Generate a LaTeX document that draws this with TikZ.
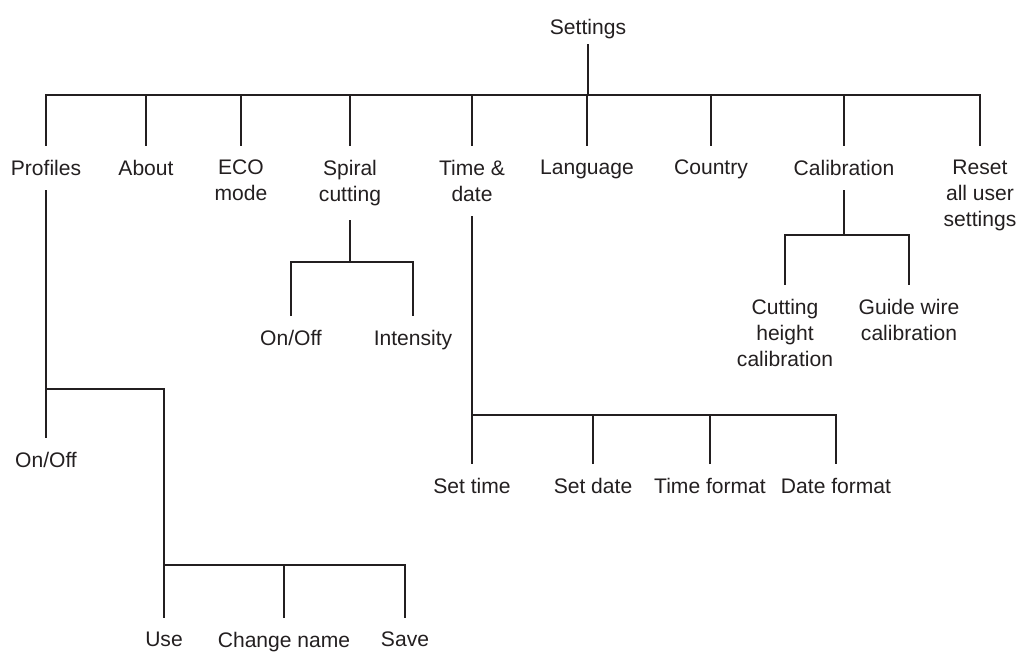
\documentclass[tikz,border=0pt]{standalone}
\usepackage{fontspec}
\setmainfont{Liberation Sans}
\usetikzlibrary{calc,positioning}
\definecolor{inkgray}{HTML}{231F20}

\begin{document}
\begin{tikzpicture}[
  x=0.75pt, y=-0.75pt,
  every node/.style={font=\fontsize{15.8}{19.5}\selectfont, text=inkgray, align=center, inner xsep=0pt, inner ysep=10.5pt},
  item/.style={anchor=north},
  link/.style={draw=inkgray, line width=1.9pt}
]
\useasboundingbox (0,0) rectangle (1017,652);

\node[inner ysep=4pt] (settings) at (588,29) {Settings};
\coordinate (bar) at (588,95);

\node[item] (profiles) at (46,146) {Profiles};
\node[item] (about) at (146,146) {About};
\node[item] (eco) at (241,146) {ECO\\mode};
\node[item] (spiral) at (350,146) {Spiral\\cutting};
\node[item] (timedate) at (472,146) {Time \&\\date};
\node[item] (language) at (587,146) {Language};
\node[item] (country) at (711,146) {Country};
\node[item] (calib) at (844,146) {Calibration};
\node[item] (reset) at (980,146) {Reset\\all user\\settings};

\draw[link] (settings) -- (bar);
\draw[link] (profiles.north) |- (bar) -| (reset.north);
\foreach \n in {about,eco,spiral,timedate,language,country,calib}
  \draw[link] (\n.north |- bar) -- (\n.north);

\node[item] (p-onoff) at (46,438) {On/Off};
\node[item] (use) at (164,618) {Use};
\node[item] (change) at (284,618) {Change name};
\node[item] (save) at (405,618) {Save};
\coordinate (profjoint) at (46,389);
\coordinate (profrow) at (164,565);
\draw[link] (profiles.south) -- (p-onoff.north);
\draw[link] (profjoint) -| (use.north);
\draw[link] (profrow) -| (save.north);
\draw[link] (change.north) -- (change.north |- profrow);

\node[item] (s-onoff) at (291,316) {On/Off};
\node[item] (intensity) at (413,316) {Intensity};
\coordinate (spiraljoint) at (350,262);
\draw[link] (spiral.south) -- (spiraljoint);
\draw[link] (s-onoff.north) |- (spiraljoint) -| (intensity.north);

\node[item] (settime) at (472,464) {Set time};
\node[item] (setdate) at (593,464) {Set date};
\node[item] (timefmt) at (710,464) {Time format};
\node[item] (datefmt) at (836,464) {Date format};
\coordinate (timejoint) at (472,415);
\draw[link] (timedate.south) -- (settime.north);
\draw[link] (timejoint) -| (datefmt.north);
\foreach \n in {setdate,timefmt}
  \draw[link] (\n.north) -- (\n.north |- timejoint);

\node[item] (cutheight) at (785,285) {Cutting\\height\\calibration};
\node[item] (guidewire) at (909,285) {Guide wire\\calibration};
\coordinate (caljoint) at (844,235);
\draw[link] (calib.south) -- (caljoint);
\draw[link] (cutheight.north) |- (caljoint) -| (guidewire.north);
\end{tikzpicture}
\end{document}
